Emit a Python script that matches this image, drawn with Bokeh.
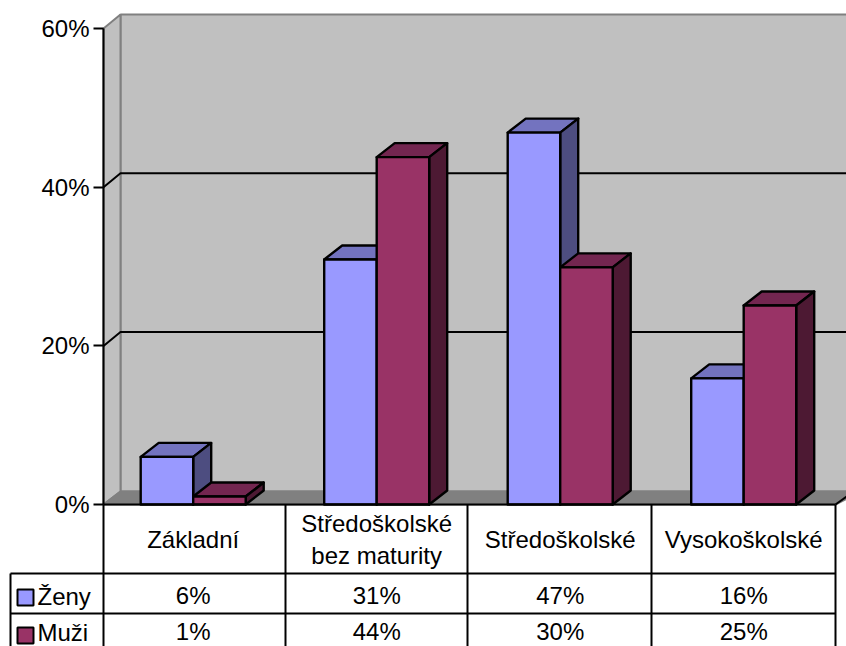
from bokeh.plotting import figure
from bokeh.models import LinearAxis, FixedTicker, PrintfTickFormatter, Range1d
from bokeh.core.properties import value
from bokeh.embed import file_html
from bokeh.resources import INLINE

categories = ["Základní", "Středoškolské\nbez maturity", "Středoškolské", "Vysokoškolské"]
zeny = [6.0, 30.9, 46.9, 15.9]
muzi = [1.0, 43.8, 29.9, 25.1]
series_names = ["Ženy", "Muži"]
y_ticks = [0, 20, 40, 60]

FONT = value("Liberation Sans")
FS = "24px"
PX_Y = 7.93          # pixels per percent
PX_X = 183.5         # pixels per category
X0 = 192.7           # picture x of category 0
Y0 = 504             # picture y of 0 %
W, H = 846, 646


def X(px):
    return (px - X0) / PX_X


def Y(py):
    return (Y0 - py) / PX_Y


p = figure(width=W, height=H, output_backend="svg", toolbar_location=None,
           x_range=Range1d(X(0), X(W)), y_range=Range1d(Y(H), Y(0)),
           x_axis_location=None, y_axis_location=None, min_border=0,
           outline_line_color=None, background_fill_color="white")
p.grid.visible = False

DX = X(121) - X(103)
DY = 14 / PX_Y
WALL, FLOOR, EDGE = "#C0C0C0", "#808080", "#808080"

# walls and floor
p.patch([X(120), X(860), X(860), X(120)], [Y(14), Y(14), Y(491), Y(491)],
        fill_color=WALL, line_color=EDGE, line_width=2)
p.patch([X(103), X(120), X(120), X(103)], [Y(28), Y(14), Y(491), Y(504)],
        fill_color=WALL, line_color=EDGE, line_width=2)
p.patch([X(103), X(120), X(860), X(835)], [Y(504), Y(491), Y(491), Y(504)],
        fill_color=FLOOR, line_color=EDGE, line_width=2)

# gridlines on the walls
for t in y_ticks[1:-1]:
    p.line([X(103), X(120), X(860)], [t, t + DY, t + DY], line_color="black", line_width=2)

# bars
BW = 52.5 / PX_X
LW = 2.4
styles = [("#9999FF", "#7373BF", "#4D4D80"), ("#993366", "#732650", "#4D1933")]
for i in range(len(categories)):
    for s, v in enumerate((zeny[i], muzi[i])):
        x0 = i + (s - 1) * BW
        x1 = x0 + BW
        front, top, side = styles[s]
        p.patch([x0, x1, x1 + DX, x0 + DX], [v, v, v + DY, v + DY],
                fill_color=top, line_color="black", line_width=LW, line_join="round")
        p.patch([x1, x1 + DX, x1 + DX, x1], [v, v + DY, DY, 0],
                fill_color=side, line_color="black", line_width=LW, line_join="round")
        p.patch([x0, x1, x1, x0], [0, 0, v, v],
                fill_color=front, line_color="black", line_width=LW, line_join="round")

# data table rules
hl = [(103, 835, 504), (10, 835, 573), (10, 835, 613)]
for a, b, c in hl:
    p.line([X(a), X(b)], [Y(c), Y(c)], line_color="black", line_width=2)
vl = [(10, 573), (103, 504), (285, 504), (467, 504), (651, 504), (835, 504)]
for a, c in vl:
    p.line([X(a), X(a)], [Y(c), Y(660)], line_color="black", line_width=2)
p.line([X(835), X(853)], [Y(504), Y(491)], line_color="black", line_width=2)

# data table text
idx = list(range(len(categories)))
p.text(idx, [Y(539)] * 4, text=categories, text_font=FONT, text_font_size=FS,
       text_align="center", text_baseline="middle", text_color="black", text_line_height=1.2)
p.text(idx, [Y(595)] * 4, text=[f"{v:.0f}%" for v in zeny], text_font=FONT, text_font_size=FS,
       text_align="center", text_baseline="middle", text_color="black")
p.text(idx, [Y(631)] * 4, text=[f"{v:.0f}%" for v in muzi], text_font=FONT, text_font_size=FS,
       text_align="center", text_baseline="middle", text_color="black")

# legend keys in the table
for name, yc, ty, st in zip(series_names, (597, 635), (596, 632), styles):
    p.patch([X(17), X(33), X(33), X(17)], [Y(yc - 8), Y(yc - 8), Y(yc + 8), Y(yc + 8)],
            fill_color=st[0], line_color="black", line_width=2)
    p.text([X(37)], [Y(ty)], text=[name], text_font=FONT, text_font_size=FS,
           text_align="left", text_baseline="middle", text_color="black")

# value axis
axis = LinearAxis(fixed_location=X(103), bounds=(0, 60), ticker=FixedTicker(ticks=y_ticks),
                  formatter=PrintfTickFormatter(format="%d%%"),
                  axis_line_color="black", axis_line_width=2,
                  major_tick_line_color="black", major_tick_line_width=2,
                  major_tick_in=0, major_tick_out=10, minor_tick_line_color=None,
                  major_label_text_font="Liberation Sans", major_label_text_font_size=FS,
                  major_label_text_color="black", major_label_standoff=4)
p.add_layout(axis, "left")

open("out.html", "w").write(file_html(p, INLINE))
